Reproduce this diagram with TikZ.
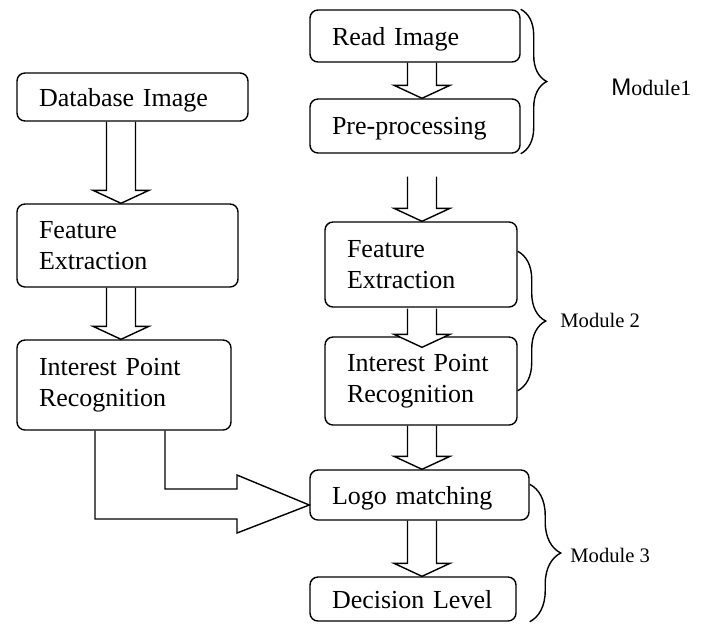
\documentclass[tikz,border=0pt]{standalone}
\usepackage{fontspec}
\setmainfont{Liberation Serif}
\newfontfamily\arialfont{Liberation Sans}
\usetikzlibrary{calc,decorations.pathreplacing}

\tikzset{
  box/.style={draw, line width=0.7pt, rounded corners=4pt, align=left,
    inner xsep=11pt, font=\fontsize{13}{15.5}\selectfont},
  onebox/.style={box, text depth=0pt},
  fatarr/.style={draw, line width=0.7pt, line join=miter},
  modbrace/.style={draw, decorate, decoration={brace, amplitude=#1}, line width=0.7pt},
  modlabel/.style={anchor=west, inner sep=0pt, font=\fontsize{10.3}{12}\selectfont}
}

% hollow block arrow: [extra style]{start of shaft}{tip}
\newcommand{\fatarrow}[3][]{%
  \path[fatarr,#1] let \p1=(#2), \p2=(#3) in
    (\x1-7.25pt,\y1) -- (\x1-7.25pt,\y2+6.5pt) -- (\x1-14pt,\y2+6.5pt) -- (\x2,\y2)
    -- (\x1+14pt,\y2+6.5pt) -- (\x1+7.25pt,\y2+6.5pt) -- (\x1+7.25pt,\y1);}

\begin{document}
\begin{tikzpicture}[x=0.5pt,y=-0.5pt]
  \useasboundingbox (0,0) rectangle (704,623);

  \coordinate (lcol) at (121,0);
  \coordinate (rcol) at (422,0);

  % left column
  \node[onebox, text width=93.5pt, minimum height=24pt] (dbimg) at (132.5,97) {Database Image};
  \node[box, text width=88.5pt, minimum height=41.5pt] (featL) at (127.5,245.5) {Feature\\Extraction};
  \node[box, text width=85pt, minimum height=45pt] (ipL) at (124,385) {Interest Point\\Recognition};

  % right column
  \node[onebox, text width=83pt, minimum height=26pt] (readimg) at (415,36) {Read Image};
  \node[onebox, text width=83pt, minimum height=27pt] (preproc) at (415,126) {Pre-processing};
  \node[box, text width=74pt, minimum height=42.5pt] (featR) at (421,264.5) {Feature\\Extraction};
  \node[box, text width=74pt, minimum height=44pt] (ipR) at (421,381) {Interest Point\\Recognition};
  \node[onebox, text width=87.5pt, minimum height=25pt] (logo) at (419.5,495) {Logo matching};
  \node[onebox, text width=81pt, minimum height=22pt] (decision) at (413,599) {Decision Level};

  % block arrows
  \fatarrow{dbimg.south -| lcol}{featL.north -| lcol}
  \fatarrow{featL.south -| lcol}{ipL.north -| lcol}
  \fatarrow{readimg.south -| rcol}{preproc.north -| rcol}
  \fatarrow{$(preproc.south -| rcol)+(0,-11.5pt)$}{featR.north -| rcol}
  \fatarrow[fill=white]{$(featR.south -| rcol)+(0,-0.4pt)$}{$(ipR.north -| rcol)+(0,-5.5pt)$}
  \fatarrow{ipR.south -| rcol}{logo.north -| rcol}
  \fatarrow{logo.south -| rcol}{decision.north -| rcol}

  % bent arrow into the matching step
  \coordinate (lout) at (95,0);
  \coordinate (lin) at (165,0);
  \path[fatarr] (ipL.south -| lout) -- (95,519) -- (237,519) -- (237,533)
    -- ($(logo.west)+(0,-5pt)$) -- (237,475) -- (237,489) -- (165,489) -- (ipL.south -| lin);

  % modules
  \draw[modbrace=13pt] (readimg.north east) -- (preproc.south east);
  \draw[modbrace=14pt] ($(featR.north east)+(0,-15pt)$) -- ($(ipR.south east)+(0,17.5pt)$);
  \draw[modbrace=15.5pt] ($(logo.north east)+(0,-7.5pt)$) -- (logo.east |- decision.south);

  \node[modlabel, font=\fontsize{11}{13}\selectfont] (mod1) at (611,87)
    {{\arialfont\fontsize{12}{14}\selectfont M}odule1};
  \node[modlabel] (mod2) at (560,320) {Module 2};
  \node[modlabel] (mod3) at (570,555) {Module 3};
\end{tikzpicture}
\end{document}
